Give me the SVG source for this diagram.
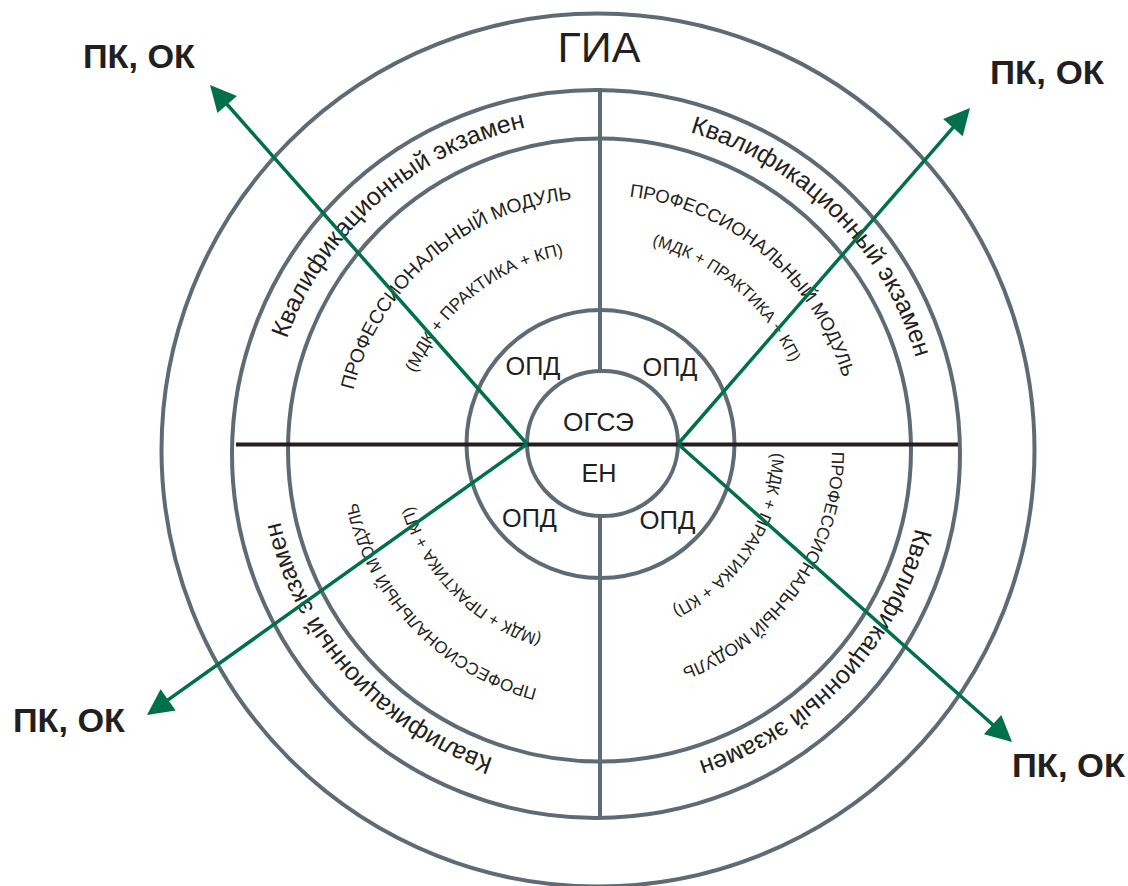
<svg xmlns="http://www.w3.org/2000/svg" width="1128" height="886" viewBox="0 0 1128 886">
<style>
.ring{fill:none;stroke:#5f6b74;stroke-width:4}
.div{stroke:#5f6b74;stroke-width:4;fill:none}
.axis{stroke:#231f20;stroke-width:4;fill:none}
.arrow{stroke:#00704a;stroke-width:3.5;fill:none;marker-end:url(#ah)}
.t{font-family:"Liberation Sans",Arial,sans-serif;fill:#231f20}
.lbl{font-family:"Liberation Sans",Arial,sans-serif;font-weight:bold;font-size:33px;fill:#231f20}
.ke{font-size:25px}
.core{font-size:26px}
</style>
<defs>
<marker id="ah" markerUnits="userSpaceOnUse" markerWidth="34" markerHeight="30" refX="16" refY="15" orient="auto"><path d="M32,15 L6,2 L6,28 Z" fill="#00704a"/></marker>
<path id="ke-ul" d="M332.7,646.3 A330,330 0 0 1 825.2,210.6"/>
<path id="ke-ur" d="M385.2,196.5 A331,331 0 0 1 851.5,662.8"/>
<path id="ke-ll" d="M794.2,710.3 A326,326 0 0 1 359.6,227.7"/>
<path id="ke-lr" d="M841.0,231.2 A327,327 0 0 1 396.7,707.7"/>
<path id="pm-ul" d="M394.4,598.5 A252,252 0 0 1 772.7,268.4"/>
<path id="pm-ur" d="M418.6,268.7 A255,255 0 0 1 806.1,597.4"/>
<path id="pm-ll" d="M752.8,641.2 A246,246 0 0 1 412.3,288.6"/>
<path id="pm-lr" d="M747.5,270.0 A234,234 0 0 1 482.1,653.3"/>
<path id="md-ul" d="M433.1,559.6 A198,198 0 0 1 741.4,313.5"/>
<path id="md-ur" d="M448.6,299.6 A212,212 0 0 1 771.2,572.2"/>
<path id="md-ll" d="M722.7,598.6 A194,194 0 0 1 449.4,325.3"/>
<path id="md-lr" d="M704.9,312.7 A174,174 0 0 1 516.6,603.8"/>
</defs>
<rect x="0" y="0" width="1128" height="886" fill="#ffffff"/>

<g id="gia">
<circle class="ring" cx="598" cy="450" r="436.5"/>
<text class="t" x="599" y="62" font-size="43" text-anchor="middle">ГИА</text>
</g>

<g id="kvalif-exam">
<circle class="ring" cx="596" cy="454" r="364"/>
<text class="t ke"><textPath href="#ke-ul" startOffset="50%" text-anchor="middle">Квалификационный экзамен</textPath></text>
<text class="t ke"><textPath href="#ke-ur" startOffset="50%" text-anchor="middle">Квалификационный экзамен</textPath></text>
<text class="t ke"><textPath href="#ke-ll" startOffset="50%" text-anchor="middle">Квалификационный экзамен</textPath></text>
<text class="t ke"><textPath href="#ke-lr" startOffset="50%" text-anchor="middle">Квалификационный экзамен</textPath></text>
</g>

<g id="prof-module">
<circle class="ring" cx="599.5" cy="450" r="311.5"/>
<text class="t" font-size="19.3"><textPath href="#pm-ul" startOffset="50%" text-anchor="middle">ПРОФЕССИОНАЛЬНЫЙ МОДУЛЬ</textPath></text>
<text class="t" font-size="18.5"><textPath href="#pm-ur" startOffset="50%" text-anchor="middle">ПРОФЕССИОНАЛЬНЫЙ МОДУЛЬ</textPath></text>
<text class="t" font-size="17"><textPath href="#pm-ll" startOffset="50%" text-anchor="middle">ПРОФЕССИОНАЛЬНЫЙ МОДУЛЬ</textPath></text>
<text class="t" font-size="17.5"><textPath href="#pm-lr" startOffset="50%" text-anchor="middle">ПРОФЕССИОНАЛЬНЫЙ МОДУЛЬ</textPath></text>
<text class="t" font-size="17.2"><textPath href="#md-ul" startOffset="50%" text-anchor="middle">(МДК + ПРАКТИКА + КП)</textPath></text>
<text class="t" font-size="16.4"><textPath href="#md-ur" startOffset="50%" text-anchor="middle">(МДК + ПРАКТИКА + КП)</textPath></text>
<text class="t" font-size="16.6"><textPath href="#md-ll" startOffset="50%" text-anchor="middle">(МДК + ПРАКТИКА + КП)</textPath></text>
<text class="t" font-size="16.9"><textPath href="#md-lr" startOffset="50%" text-anchor="middle">(МДК + ПРАКТИКА + КП)</textPath></text>
</g>

<g id="opd">
<circle class="ring" cx="600.5" cy="444" r="134"/>
<text class="t core" x="505.5" y="375" textLength="55" lengthAdjust="spacingAndGlyphs">ОПД</text>
<text class="t core" x="642.5" y="376" textLength="55" lengthAdjust="spacingAndGlyphs">ОПД</text>
<text class="t core" x="502" y="527" textLength="55" lengthAdjust="spacingAndGlyphs">ОПД</text>
<text class="t core" x="639.5" y="529" textLength="56" lengthAdjust="spacingAndGlyphs">ОПД</text>
</g>

<g id="dividers">
<line class="div" x1="600" y1="88" x2="600" y2="371"/>
<line class="div" x1="600" y1="516" x2="600" y2="818"/>
</g>

<g id="core">
<ellipse class="ring" cx="602.5" cy="443.5" rx="75.5" ry="72.5"/>
<text class="t core" x="563" y="431" textLength="71" lengthAdjust="spacingAndGlyphs">ОГСЭ</text>
<text class="t core" x="581.5" y="481.5" textLength="35" lengthAdjust="spacingAndGlyphs">ЕН</text>
</g>

<g id="axis">
<line class="axis" x1="236" y1="444.5" x2="958" y2="444.5"/>
</g>

<g id="connectors">
<line class="arrow" x1="527" y1="444" x2="220.6" y2="97"/>
<line class="arrow" x1="678" y1="444" x2="959.5" y2="120.1"/>
<line class="arrow" x1="527" y1="444" x2="160" y2="705.7"/>
<line class="arrow" x1="678" y1="444" x2="1000.1" y2="731.3"/>
</g>

<g id="labels">
<text class="lbl" x="83" y="68" textLength="112" lengthAdjust="spacingAndGlyphs">ПК, ОК</text>
<text class="lbl" x="990" y="84" textLength="114" lengthAdjust="spacingAndGlyphs">ПК, ОК</text>
<text class="lbl" x="13" y="732" textLength="112" lengthAdjust="spacingAndGlyphs">ПК, ОК</text>
<text class="lbl" x="1012" y="777" textLength="113" lengthAdjust="spacingAndGlyphs">ПК, ОК</text>
</g>
</svg>
